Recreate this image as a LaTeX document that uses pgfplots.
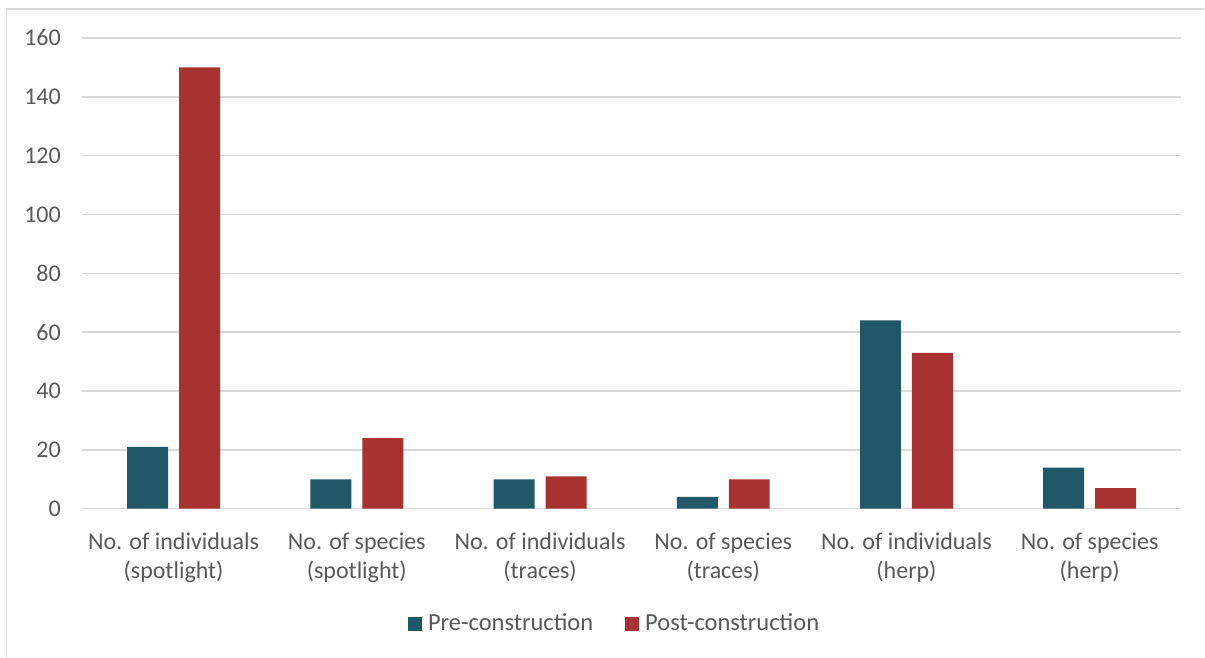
\documentclass[border=0pt]{standalone}
\usepackage{pgfplots}
\pgfplotsset{compat=1.18}
\usepackage{fontspec}
\setmainfont{Carlito}
\definecolor{teal1}{HTML}{215867}
\definecolor{red1}{HTML}{A8322F}
\definecolor{txt}{HTML}{595959}
\definecolor{grid1}{HTML}{D9D9D9}
\begin{document}
\fontsize{24.5}{29}\selectfont
\begin{tikzpicture}[x=1pt,y=1pt]
\begin{axis}[
  name=ax, at={(82pt,148pt)}, anchor=south west,
  scale only axis, width=1100pt, height=471pt,
  xmin=-0.5, xmax=5.5, ymin=0, ymax=160,
  ytick={0,20,...,160},
  xtick={0,...,5},
  xticklabels={{No. of individuals\\(spotlight)},{No. of species\\(spotlight)},{No. of individuals\\(traces)},{No. of species\\(traces)},{No. of individuals\\(herp)},{No. of species\\(herp)}},
  xticklabel style={align=center, text=txt, font=\fontsize{24}{29}\selectfont, inner sep=0pt, anchor=north, yshift=-24pt},
  yticklabel style={text=txt, font=\fontsize{24}{29}\selectfont, inner sep=0pt, anchor=east, xshift=-21pt},
  /pgf/number format/assume math mode=true,
  major tick length=0pt,
  axis line style={draw=none},
  ymajorgrids, grid style={grid1, line width=1.5pt},
  axis x line*=bottom,
  ybar, bar width=41pt,
  legend columns=2,
  legend style={draw=none, at={(0.4845,-0.2442)}, anchor=center, font=\fontsize{24.5}{29}\selectfont, text=txt,
    /tikz/every odd column/.append style={column sep=4pt},
    /tikz/every even column/.append style={column sep=30pt}},
  legend image code/.code={\fill[#1] (0pt,-7pt) rectangle (14pt,7pt);},
]
\draw[grid1, line width=1.5pt] (rel axis cs:0,0) -- (rel axis cs:1,0);
\addplot[fill=teal1, draw=none, bar shift=-26pt] coordinates {(0,21) (1,10) (2,10) (3,4) (4,64) (5,14)};
\addplot[fill=red1, draw=none, bar shift=26pt] coordinates {(0,150) (1,24) (2,11) (3,10) (4,53) (5,7)};
\legend{Pre-construction, Post-construction}
\end{axis}
\draw[grid1, line width=1.2pt] (6.5,0) -- (6.5,648) -- (1205,648);
\useasboundingbox (0,0) rectangle (1205,657);
\end{tikzpicture}
\end{document}
